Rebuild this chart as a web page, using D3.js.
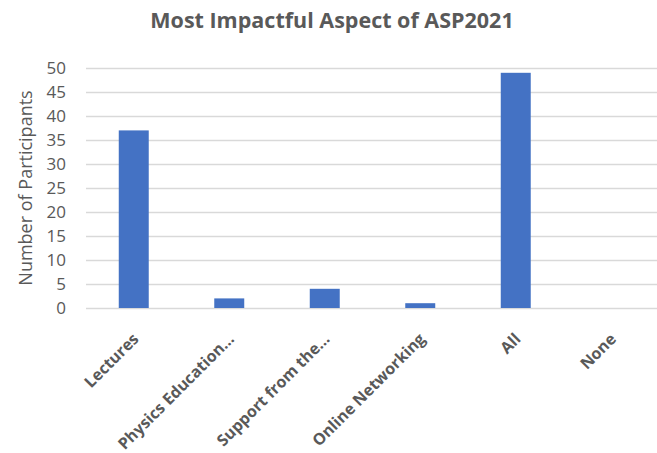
<!DOCTYPE html>
<html>
<head>
<meta charset="utf-8">
<script src="https://cdn.jsdelivr.net/npm/d3@7"></script>
<style>
  html, body { margin: 0; padding: 0; background: #fff; }
  svg { display: block; }
</style>
</head>
<body>
<svg id="chart" width="657" height="453"></svg>
<script>
const categories = ["Lectures", "Physics Education…", "Support from the…", "Online Networking", "All", "None"];
const values = [37, 2, 4, 1, 49, 0];
const yTicks = [0, 5, 10, 15, 20, 25, 30, 35, 40, 45, 50];
const titleText = "Most Impactful Aspect of ASP2021";
const yTitleText = "Number of Participants";

const svg = d3.select("#chart");
const plot = { left: 86, right: 659, top: 68, bottom: 308 };
const textColor = "#595959";
const font = "'Open Sans', sans-serif";

const x = d3.scaleBand().domain(categories).range([plot.left, plot.right])
  .paddingInner(0.686).paddingOuter(0.343);
const y = d3.scaleLinear().domain([0, 50]).range([plot.bottom, plot.top]);

// gridlines
const grid = svg.append("g").attr("transform", `translate(${plot.left},0)`)
  .call(d3.axisLeft(y).tickValues(yTicks).tickSize(-(plot.right - plot.left)).tickFormat(""));
grid.select(".domain").remove();
grid.selectAll("line").attr("stroke", "#d9d9d9").attr("stroke-width", 1.3);

// y tick labels
const yAxis = svg.append("g").attr("transform", `translate(${plot.left},0)`)
  .call(d3.axisLeft(y).tickValues(yTicks).tickSize(0).tickPadding(20));
yAxis.select(".domain").remove();
yAxis.selectAll("text").attr("fill", textColor).style("font-family", font).style("font-size", "17px");

// bars
svg.append("g").selectAll("rect").data(categories).join("rect")
  .attr("x", d => x(d))
  .attr("width", x.bandwidth())
  .attr("y", (d, i) => y(values[i]))
  .attr("height", (d, i) => y(0) - y(values[i]))
  .attr("fill", "#4472c4");

// x labels
const xAxis = svg.append("g").attr("transform", `translate(0,${plot.bottom})`)
  .call(d3.axisBottom(x).tickSize(0).tickPadding(0));
xAxis.select(".domain").remove();
xAxis.selectAll("text")
  .attr("fill", textColor)
  .style("font-family", font).style("font-size", "16px").style("font-weight", "700")
  .attr("text-anchor", "end")
  .attr("y", 0)
  .attr("dy", "0")
  .attr("transform", "translate(6,32) rotate(-45)");

// title
svg.append("text").attr("x", 332).attr("y", 28).attr("text-anchor", "middle")
  .attr("fill", textColor).style("font-family", font).style("font-size", "21.5px").style("font-weight", "700")
  .text(titleText);

// y axis title
svg.append("text").attr("transform", "translate(32,188) rotate(-90)").attr("text-anchor", "middle")
  .attr("fill", textColor).style("font-family", font).style("font-size", "18px")
  .text(yTitleText);
</script>
</body>
</html>
